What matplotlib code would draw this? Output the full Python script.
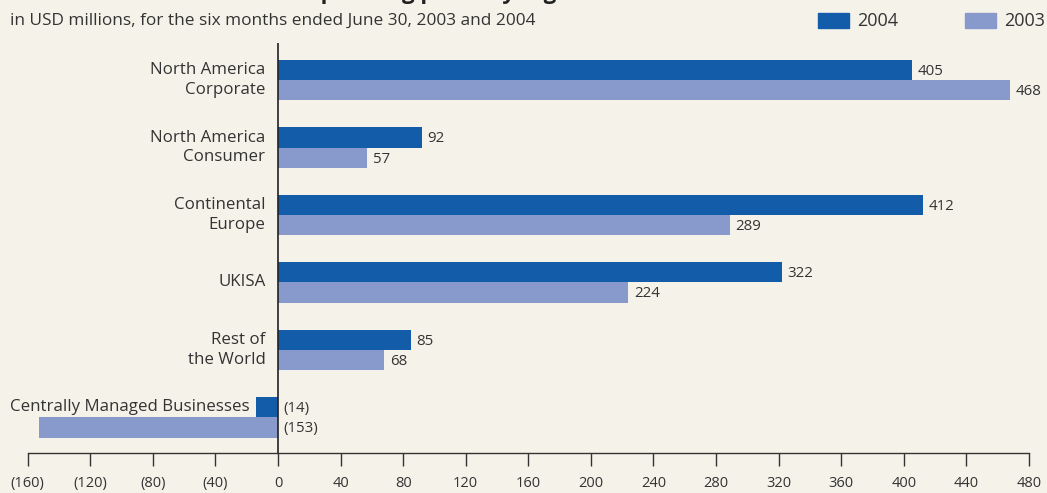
import matplotlib.pyplot as plt
from matplotlib.patches import Rectangle
import numpy as np

regions = ["North America\nCorporate", "North America\nConsumer", "Continental\nEurope",
           "UKISA", "Rest of\nthe World", "Centrally Managed Businesses"]
profit_2004 = [405, 92, 412, 322, 85, -14]
profit_2003 = [468, 57, 289, 224, 68, -153]
xticks = [-160, -120, -80, -40, 0, 40, 80, 120, 160, 200, 240, 280, 320, 360, 400, 440, 480]

bg = "#F5F3E9"
c2004 = "#135CAA"
c2003 = "#8899CB"
txt = "#333333"

plt.rcParams["font.family"] = ["Open Sans", "DejaVu Sans"]

fig = plt.figure(figsize=(10.47, 4.93), dpi=100, facecolor=bg)
ax = fig.add_axes([0.0264, 0.0811, 0.9564, 0.8317], facecolor=bg)

y = np.arange(len(regions))
h = 0.30
ax.barh(y - h / 2, profit_2004, height=h, color=c2004, zorder=2)
ax.barh(y + h / 2, profit_2003, height=h, color=c2003, zorder=2)

def fmt(v):
    return "(%d)" % -v if v < 0 else "%d" % v

# value labels beside each bar; negatives sit just right of the zero line
for yy, v in zip(y - h / 2, profit_2004):
    ax.annotate(fmt(v), (max(v, 0), yy), xytext=(4, -1), textcoords="offset points",
                ha="left", va="center", fontsize=10.8, color=txt)
for yy, v in zip(y + h / 2, profit_2003):
    ax.annotate(fmt(v), (max(v, 0), yy), xytext=(4, -1), textcoords="offset points",
                ha="left", va="center", fontsize=10.8, color=txt)

# region names to the left of the zero line
for yy, name, v in zip(y, regions, profit_2004):
    if v < 0:
        ax.annotate(name, (v, yy - h / 2), xytext=(-5, 0), textcoords="offset points",
                    ha="right", va="center", fontsize=12.2, color=txt)
    else:
        ax.annotate(name, (0, yy), xytext=(-9, 0), textcoords="offset points",
                    ha="right", va="center", fontsize=12.2, color=txt, linespacing=1.32)

ax.axvline(0, color="#222222", lw=1.2, zorder=3)

ax.set_xlim(-160, 480)
ax.set_ylim(5.53, -0.55)
ax.set_xticks(xticks)
ax.set_xticklabels([fmt(t) for t in xticks])
ax.set_yticks([])
ax.tick_params(axis="x", direction="out", length=9.5, width=1, color="#333333",
               labelsize=10.5, labelcolor=txt, pad=7)
for s in ["top", "right", "left"]:
    ax.spines[s].set_visible(False)
ax.spines["bottom"].set_color("#333333")
ax.spines["bottom"].set_linewidth(1)

fig.text(303 / 1047, 1.003, "Operating profit by region", fontsize=16, fontweight="bold",
         color="#222222", ha="left", va="baseline")
fig.text(10 / 1047, 1 - 21 / 493, "in USD millions, for the six months ended June 30, 2003 and 2004",
         fontsize=12.4, color=txt, ha="left", va="center")

# legend swatches
for x0, col, lab in [(818, c2004, "2004"), (965, c2003, "2003")]:
    fig.add_artist(Rectangle((x0 / 1047, 1 - 28 / 493), 31 / 1047, 15 / 493,
                             transform=fig.transFigure, color=col))
    fig.text((x0 + 39) / 1047, 1 - 21 / 493, lab, fontsize=13, color=txt,
             ha="left", va="center")

plt.savefig("out.png", dpi=100, facecolor=bg)
